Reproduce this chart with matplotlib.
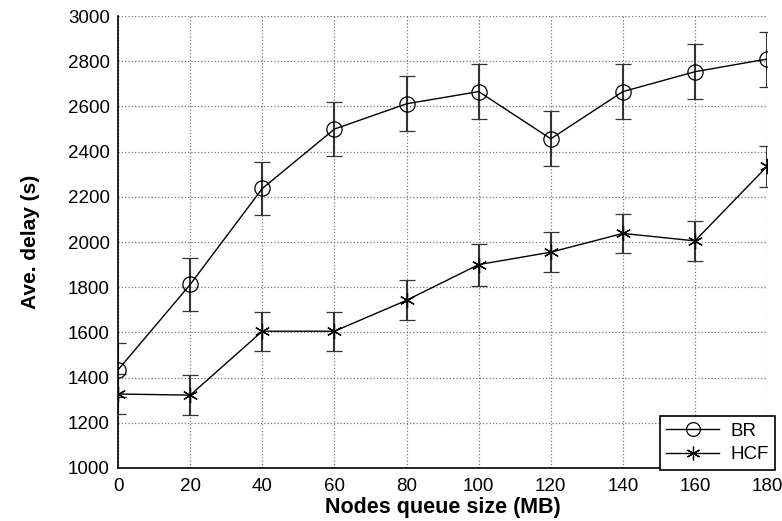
import matplotlib.pyplot as plt

plt.rcParams['font.family'] = ['Liberation Sans', 'DejaVu Sans']

# data
queue_size = [0, 20, 40, 60, 80, 100, 120, 140, 160, 180]
br = [1434, 1812, 2237, 2500, 2612, 2666, 2457, 2666, 2754, 2810]
br_err = [120, 118, 117, 121, 121, 121, 121, 121, 122, 122]
hcf = [1327, 1322, 1605, 1605, 1742, 1900, 1955, 2038, 2005, 2335]
hcf_err = [87, 87, 87, 87, 88, 93, 90, 88, 90, 90]

fig = plt.figure(figsize=(7.82, 5.21), dpi=100)
ax = fig.add_axes([0.151, 0.102, 0.830, 0.867])

e1 = ax.errorbar(queue_size, br, yerr=br_err, color='black', ecolor='#333333',
                 elinewidth=1.5, capsize=5.5, capthick=1.2, lw=1,
                 marker='o', markersize=11, markerfacecolor='none',
                 markeredgewidth=0.9, label='BR')
e2 = ax.errorbar(queue_size, hcf, yerr=hcf_err, color='black', ecolor='#333333',
                 elinewidth=1.5, capsize=5.5, capthick=1.2, lw=1,
                 marker=(6, 2, 0), markersize=11, markeredgewidth=0.9,
                 label='HCF')

ax.set_xlim(0, 180)
ax.set_ylim(1000, 3000)
ax.set_xticks(range(0, 181, 20))
ax.set_yticks(range(1000, 3001, 200))
ax.tick_params(length=0, labelsize=13.5)
ax.tick_params(axis='y', pad=6)
ax.tick_params(axis='x', pad=7)

ax.grid(True, linestyle=':', color='#777777', linewidth=0.9)
ax.spines['top'].set_visible(False)
ax.spines['right'].set_visible(False)
ax.spines['left'].set_linewidth(1.2)
ax.spines['bottom'].set_linewidth(1.2)

ax.set_xlabel('Nodes queue size (MB)', fontsize=15.5, fontweight='bold', labelpad=2)
ax.set_ylabel('Ave. delay (s)', fontsize=15, fontweight='bold', labelpad=20)

leg = ax.legend([e1[0], e2[0]], ['BR', 'HCF'], loc='lower right',
                bbox_to_anchor=(0.991, 0.098),
                bbox_transform=fig.transFigure, borderaxespad=0,
                fancybox=False, edgecolor='black', framealpha=1,
                fontsize=13.5, handlelength=2.8, markerscale=0.9,
                borderpad=0.35, labelspacing=0.35, handletextpad=0.6)
leg.get_frame().set_linewidth(1.2)

fig.savefig('out.png', dpi=100)
